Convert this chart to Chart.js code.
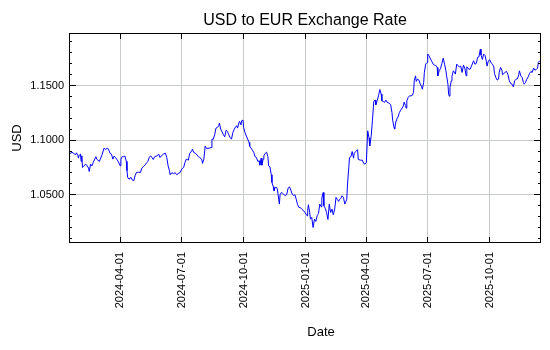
<!DOCTYPE html>
<html>
<head>
<meta charset="utf-8">
<title>USD to EUR Exchange Rate</title>
<script src="https://cdn.jsdelivr.net/npm/chart.js@4.4.1/dist/chart.umd.min.js"></script>
<style>
  html, body { margin: 0; padding: 0; background: #fff; }
  #wrap { width: 550px; height: 350px; }
</style>
</head>
<body>
<div id="wrap"><canvas id="rateChart" width="550" height="350"></canvas></div>
<script>
// Daily close, USD per EUR
const dates = [
  '2024-01-16','2024-01-19','2024-01-22','2024-01-24','2024-01-26','2024-01-27','2024-01-29','2024-01-30','2024-01-31',
  '2024-02-02','2024-02-03','2024-02-04','2024-02-05','2024-02-07','2024-02-10','2024-02-12','2024-02-14','2024-02-15',
  '2024-02-17','2024-02-19','2024-02-21','2024-02-23','2024-02-25','2024-02-26','2024-02-28',
  '2024-03-01','2024-03-03','2024-03-05','2024-03-08','2024-03-10','2024-03-13','2024-03-15','2024-03-17','2024-03-19',
  '2024-03-21','2024-03-23','2024-03-25','2024-03-27','2024-03-29',
  '2024-04-01','2024-04-02','2024-04-04','2024-04-06','2024-04-08','2024-04-10','2024-04-11','2024-04-12','2024-04-14',
  '2024-04-17','2024-04-19','2024-04-21','2024-04-23','2024-04-25','2024-04-28',
  '2024-05-01','2024-05-03','2024-05-05','2024-05-08','2024-05-10','2024-05-12','2024-05-14','2024-05-16','2024-05-18',
  '2024-05-20','2024-05-22','2024-05-24','2024-05-26','2024-05-28','2024-05-30',
  '2024-06-01','2024-06-04','2024-06-07','2024-06-09','2024-06-11','2024-06-13','2024-06-14','2024-06-17','2024-06-19',
  '2024-06-21','2024-06-24','2024-06-26','2024-06-29',
  '2024-07-01','2024-07-04','2024-07-06','2024-07-08','2024-07-11','2024-07-13','2024-07-16','2024-07-17','2024-07-19',
  '2024-07-22','2024-07-26','2024-07-28','2024-07-31',
  '2024-08-01','2024-08-03','2024-08-05','2024-08-07','2024-08-11','2024-08-14','2024-08-15','2024-08-17','2024-08-19',
  '2024-08-21','2024-08-23','2024-08-25','2024-08-26','2024-08-28','2024-08-30',
  '2024-09-01','2024-09-03','2024-09-05','2024-09-07','2024-09-09','2024-09-11','2024-09-13','2024-09-15','2024-09-17',
  '2024-09-19','2024-09-21','2024-09-22','2024-09-24','2024-09-25','2024-09-27','2024-09-28','2024-09-30',
  '2024-10-01','2024-10-03','2024-10-05','2024-10-07','2024-10-09','2024-10-10','2024-10-12','2024-10-14','2024-10-16',
  '2024-10-18','2024-10-20','2024-10-22','2024-10-24','2024-10-25','2024-10-27','2024-10-28','2024-10-30','2024-10-31',
  '2024-11-02','2024-11-04','2024-11-06','2024-11-07','2024-11-09','2024-11-11','2024-11-12','2024-11-14','2024-11-15',
  '2024-11-17','2024-11-19','2024-11-20','2024-11-22','2024-11-23','2024-11-24','2024-11-26','2024-11-28','2024-11-30',
  '2024-12-02','2024-12-04','2024-12-06','2024-12-08','2024-12-10','2024-12-12','2024-12-14','2024-12-16','2024-12-18',
  '2024-12-20','2024-12-22','2024-12-24','2024-12-26','2024-12-29','2024-12-31',
  '2025-01-03','2025-01-04','2025-01-05','2025-01-07','2025-01-08','2025-01-10','2025-01-12','2025-01-14','2025-01-16',
  '2025-01-18','2025-01-20','2025-01-22','2025-01-24','2025-01-25','2025-01-27','2025-01-28','2025-01-30',
  '2025-02-01','2025-02-03','2025-02-05','2025-02-07','2025-02-09','2025-02-11','2025-02-13','2025-02-15','2025-02-17',
  '2025-02-19','2025-02-20','2025-02-22','2025-02-24','2025-02-26','2025-02-28',
  '2025-03-01','2025-03-03','2025-03-04','2025-03-06','2025-03-07','2025-03-09','2025-03-11','2025-03-13','2025-03-14',
  '2025-03-16','2025-03-19','2025-03-20','2025-03-23','2025-03-26','2025-03-28','2025-03-30',
  '2025-04-01','2025-04-03','2025-04-05','2025-04-06','2025-04-08','2025-04-10','2025-04-12','2025-04-14','2025-04-15',
  '2025-04-17','2025-04-19','2025-04-21','2025-04-23','2025-04-24','2025-04-26','2025-04-28','2025-04-30',
  '2025-05-02','2025-05-05','2025-05-07','2025-05-09','2025-05-10','2025-05-12','2025-05-13','2025-05-15','2025-05-16',
  '2025-05-18','2025-05-20','2025-05-22','2025-05-24','2025-05-26','2025-05-27','2025-05-29','2025-05-30','2025-05-31',
  '2025-06-02','2025-06-04','2025-06-06','2025-06-08','2025-06-10','2025-06-11','2025-06-13','2025-06-14','2025-06-16',
  '2025-06-18','2025-06-20','2025-06-22','2025-06-23','2025-06-25','2025-06-26','2025-06-28','2025-06-30',
  '2025-07-01','2025-07-03','2025-07-05','2025-07-07','2025-07-09','2025-07-11','2025-07-13','2025-07-15','2025-07-16',
  '2025-07-18','2025-07-20','2025-07-22','2025-07-24','2025-07-26','2025-07-28','2025-07-29','2025-07-31',
  '2025-08-01','2025-08-02','2025-08-03','2025-08-05','2025-08-06','2025-08-08','2025-08-10','2025-08-11','2025-08-13',
  '2025-08-15','2025-08-17','2025-08-19','2025-08-21','2025-08-23','2025-08-25','2025-08-27','2025-08-28','2025-08-31',
  '2025-09-02','2025-09-05','2025-09-07','2025-09-09','2025-09-11','2025-09-13','2025-09-15','2025-09-17','2025-09-18',
  '2025-09-20','2025-09-22','2025-09-24','2025-09-26','2025-09-27','2025-09-29',
  '2025-10-01','2025-10-03','2025-10-05','2025-10-07','2025-10-08','2025-10-10','2025-10-12','2025-10-14','2025-10-15',
  '2025-10-17','2025-10-19','2025-10-20','2025-10-22','2025-10-24','2025-10-26','2025-10-28','2025-10-30',
  '2025-11-01','2025-11-03','2025-11-05','2025-11-07','2025-11-09','2025-11-11','2025-11-13','2025-11-14','2025-11-16',
  '2025-11-18','2025-11-20','2025-11-21','2025-11-23','2025-11-25','2025-11-27','2025-11-29',
  '2025-12-01','2025-12-03','2025-12-05','2025-12-07','2025-12-09','2025-12-11','2025-12-12','2025-12-14'
];

const rates = [
  1.0872,1.0884,1.0887,1.0872,1.0866,1.0884,1.0866,1.0835,1.0860,
  1.0872,1.0805,1.0857,1.0750,1.0765,1.0780,1.0765,1.0744,1.0713,
  1.0780,1.0765,1.0796,1.0826,1.0848,1.0826,1.0817,
  1.0805,1.0835,1.0866,1.0927,1.0915,1.0927,1.0909,1.0878,1.0872,
  1.0826,1.0854,1.0841,1.0823,1.0805,
  1.0765,1.0826,1.0851,1.0848,1.0854,1.0805,1.0720,1.0659,1.0643,
  1.0659,1.0634,1.0628,1.0674,1.0704,1.0707,
  1.0704,1.0744,1.0756,1.0774,1.0793,1.0805,1.0841,1.0857,1.0841,
  1.0823,1.0848,1.0854,1.0857,1.0872,1.0841,
  1.0857,1.0872,1.0881,1.0841,1.0765,1.0720,1.0683,1.0704,1.0689,
  1.0704,1.0683,1.0695,1.0704,
  1.0735,1.0750,1.0796,1.0826,1.0817,1.0878,1.0902,1.0918,1.0887,
  1.0878,1.0848,1.0841,1.0823,
  1.0787,1.0826,1.0945,1.0924,1.0927,1.0933,1.1009,1.1009,1.1049,
  1.1110,1.1116,1.1131,1.1155,1.1101,1.1076,
  1.1049,1.1030,1.1091,1.1079,1.1049,1.1024,1.1009,1.1070,1.1098,
  1.1122,1.1131,1.1110,1.1159,1.1171,1.1140,1.1177,1.1183,
  1.1116,1.1070,1.1037,1.1009,1.0979,1.0945,1.0927,1.0909,1.0887,
  1.0848,1.0841,1.0805,1.0811,1.0771,1.0835,1.0771,1.0826,1.0857,
  1.0878,1.0890,1.0848,1.0765,1.0756,1.0683,1.0613,1.0573,1.0537,
  1.0567,1.0567,1.0552,1.0460,1.0415,1.0500,1.0521,1.0512,1.0500,
  1.0491,1.0506,1.0561,1.0573,1.0543,1.0506,1.0494,1.0500,1.0460,
  1.0409,1.0384,1.0384,1.0369,1.0354,1.0338,
  1.0308,1.0354,1.0409,1.0338,1.0277,1.0293,1.0201,1.0277,1.0256,
  1.0308,1.0329,1.0415,1.0390,1.0470,1.0521,1.0399,1.0378,
  1.0338,1.0274,1.0415,1.0338,1.0369,1.0317,1.0369,1.0476,1.0457,
  1.0439,1.0457,1.0466,1.0491,1.0476,1.0415,
  1.0430,1.0460,1.0591,1.0756,1.0841,1.0848,1.0896,1.0835,1.0878,
  1.0896,1.0912,1.0823,1.0817,1.0817,1.0787,1.0780,
  1.0796,1.1085,1.1018,1.0948,1.1030,1.1177,1.1354,1.1366,1.1323,
  1.1360,1.1405,1.1463,1.1421,1.1360,1.1354,1.1345,1.1366,
  1.1345,1.1338,1.1323,1.1253,1.1183,1.1116,1.1101,1.1177,1.1192,
  1.1213,1.1253,1.1274,1.1293,1.1314,1.1348,1.1317,1.1293,1.1360,
  1.1390,1.1405,1.1405,1.1409,1.1436,1.1543,1.1588,1.1537,1.1558,
  1.1549,1.1512,1.1488,1.1466,1.1527,1.1619,1.1695,1.1710,
  1.1787,1.1771,1.1744,1.1720,1.1695,1.1686,1.1683,1.1665,1.1588,
  1.1634,1.1655,1.1701,1.1750,1.1695,1.1634,1.1588,1.1512,
  1.1421,1.1402,1.1482,1.1543,1.1585,1.1634,1.1616,1.1604,1.1695,
  1.1680,1.1671,1.1677,1.1619,1.1686,1.1659,1.1588,1.1671,1.1649,
  1.1649,1.1695,1.1726,1.1695,1.1701,1.1756,1.1762,1.1832,1.1780,
  1.1738,1.1787,1.1774,1.1720,1.1677,1.1726,
  1.1735,1.1707,1.1695,1.1671,1.1610,1.1573,1.1549,1.1558,1.1619,
  1.1665,1.1640,1.1598,1.1610,1.1622,1.1628,1.1598,1.1543,
  1.1518,1.1512,1.1488,1.1543,1.1558,1.1561,1.1598,1.1634,1.1588,
  1.1573,1.1527,1.1512,1.1527,1.1558,1.1579,1.1610,
  1.1628,1.1619,1.1659,1.1640,1.1646,1.1659,1.1710,1.1726
];

// Axis ticks
const xTickDates = ['2024-04-01', '2024-07-01', '2024-10-01', '2025-01-01', '2025-04-01', '2025-07-01', '2025-10-01'];
const yMajorTicks = [1.05, 1.10, 1.15];
const yMinorTicks = [1.01, 1.02, 1.03, 1.04, 1.05, 1.06, 1.07, 1.08, 1.09, 1.10,
                     1.11, 1.12, 1.13, 1.14, 1.15, 1.16, 1.17, 1.18, 1.19];

const chartTitle = 'USD to EUR Exchange Rate';
const xTitle = 'Date';
const yTitle = 'USD';

const FONT = "'Liberation Sans', Arial, sans-serif";
const toTime = d => Date.parse(d + 'T00:00:00Z');
const fmtDate = t => new Date(t).toISOString().slice(0, 10);
const crisp = p => Math.round(p - 0.5) + 0.5;

const points = dates.map((d, i) => ({ x: toTime(d), y: rates[i] }));

// Box around the plot, inward tick marks and the titles
const framePlugin = {
    id: 'frame',
    afterDraw(chart) {
        const { ctx, chartArea: a, scales } = chart;
        const xs = scales.x, ys = scales.y;
        ctx.save();
        ctx.strokeStyle = '#000';
        ctx.lineWidth = 1;
        ctx.beginPath();
        xTickDates.forEach(d => {
            const px = crisp(xs.getPixelForValue(toTime(d)));
            ctx.moveTo(px, a.bottom); ctx.lineTo(px, a.bottom - 6);
            ctx.moveTo(px, a.top); ctx.lineTo(px, a.top + 6);
        });
        yMinorTicks.forEach(v => {
            const py = crisp(ys.getPixelForValue(v));
            const len = yMajorTicks.some(m => Math.abs(m - v) < 1e-9) ? 7 : 3;
            ctx.moveTo(a.left, py); ctx.lineTo(a.left + len, py);
            ctx.moveTo(a.right, py); ctx.lineTo(a.right - len, py);
        });
        ctx.stroke();
        ctx.strokeRect(a.left + 0.5, a.top + 0.5, a.right - a.left - 1, a.bottom - a.top - 1);

        ctx.fillStyle = '#000';
        ctx.textAlign = 'center';
        ctx.textBaseline = 'alphabetic';
        ctx.font = '16px ' + FONT;
        ctx.fillText(chartTitle, (a.left + a.right) / 2, 25);
        ctx.font = '13px ' + FONT;
        ctx.fillText(xTitle, 321, 336);
        ctx.translate(20.5, (a.top + a.bottom) / 2);
        ctx.rotate(-Math.PI / 2);
        ctx.fillText(yTitle, 0, 0);
        ctx.restore();
    }
};

Chart.defaults.font.family = FONT;
Chart.defaults.font.size = 11;
Chart.defaults.color = '#000';

new Chart(document.getElementById('rateChart').getContext('2d'), {
    type: 'line',
    data: {
        datasets: [{
            label: 'USD',
            data: points,
            borderColor: '#0000ff',
            borderWidth: 1,
            pointRadius: 0,
            tension: 0,
            fill: false
        }]
    },
    options: {
        responsive: false,
        animation: false,
        layout: { padding: { top: 33, right: 9, bottom: 0, left: 0 } },
        plugins: {
            legend: { display: false },
            tooltip: { enabled: false },
            title: { display: false }
        },
        scales: {
            x: {
                type: 'linear',
                min: toTime('2024-01-16'),
                max: toTime('2025-12-16'),
                afterBuildTicks: scale => {
                    scale.ticks = xTickDates.map(d => ({ value: toTime(d) }));
                },
                afterFit: scale => { scale.height = 107; },
                grid: { color: '#c8ccc8', drawTicks: false },
                border: { display: false },
                ticks: {
                    autoSkip: false,
                    minRotation: 90,
                    maxRotation: 90,
                    padding: 9,
                    callback: v => fmtDate(v)
                }
            },
            y: {
                min: 1.0059,
                max: 1.1980,
                afterBuildTicks: scale => {
                    scale.ticks = yMajorTicks.map(v => ({ value: v }));
                },
                afterFit: scale => { scale.width = 69; },
                grid: { color: '#c8ccc8', drawTicks: false },
                border: { display: false },
                ticks: {
                    padding: 5,
                    callback: v => Number(v).toFixed(4)
                }
            }
        }
    },
    plugins: [framePlugin]
});
</script>
</body>
</html>
